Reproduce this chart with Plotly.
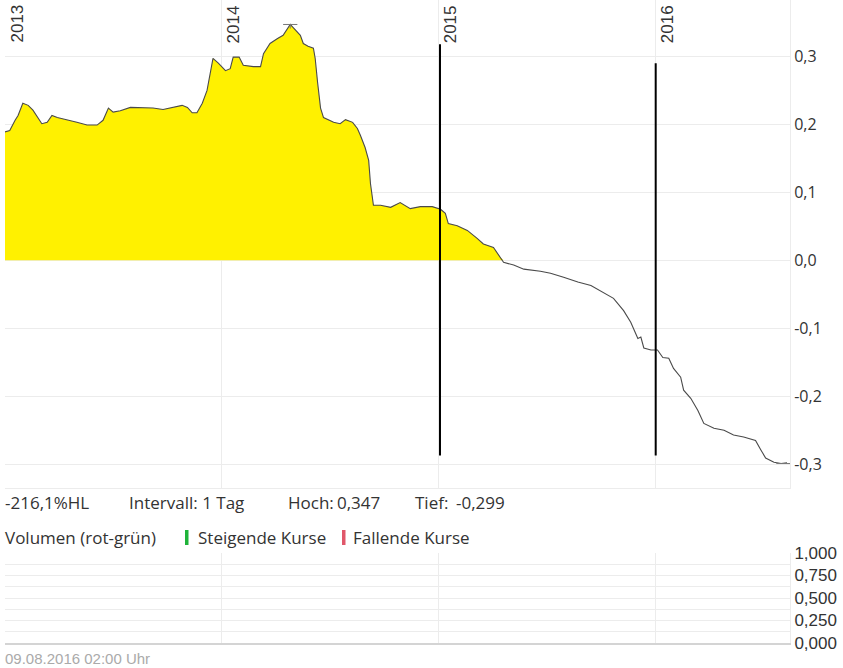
import plotly.graph_objects as go
from datetime import date, timedelta

# ---------------- data ----------------
DATES = [
    "2013-01-01", "2013-01-09", "2013-01-18", "2013-01-23", "2013-01-31", "2013-02-09",
    "2013-02-17", "2013-03-04", "2013-03-13", "2013-03-21", "2013-03-30", "2013-04-15",
    "2013-05-02", "2013-05-19", "2013-06-05", "2013-06-15", "2013-06-24", "2013-07-02",
    "2013-07-14", "2013-07-31", "2013-08-21", "2013-09-07", "2013-09-24", "2013-10-11",
    "2013-10-26", "2013-11-04", "2013-11-12", "2013-11-20", "2013-11-29", "2013-12-07",
    "2013-12-17", "2013-12-26", "2014-01-07", "2014-01-15", "2014-01-20", "2014-01-30",
    "2014-02-06", "2014-02-23", "2014-03-07", "2014-03-12", "2014-03-23", "2014-04-04",
    "2014-04-14", "2014-04-26", "2014-05-05", "2014-05-13", "2014-05-18", "2014-05-26",
    "2014-06-04", "2014-06-07", "2014-06-11", "2014-06-16", "2014-06-21", "2014-07-08",
    "2014-07-19", "2014-07-28", "2014-08-09", "2014-08-17", "2014-08-22", "2014-08-30",
    "2014-09-05", "2014-09-08", "2014-09-13", "2014-09-25", "2014-10-12", "2014-10-28",
    "2014-11-14", "2014-12-01", "2014-12-21", "2015-01-04", "2015-01-12", "2015-01-17",
    "2015-02-01", "2015-02-18", "2015-03-07", "2015-03-17", "2015-04-03", "2015-04-15",
    "2015-04-20", "2015-05-07", "2015-05-24", "2015-06-21", "2015-07-08", "2015-07-30",
    "2015-08-23", "2015-09-14", "2015-10-05", "2015-10-22", "2015-11-08", "2015-11-20",
    "2015-12-02", "2015-12-07", "2015-12-12", "2015-12-24", "2016-01-04", "2016-01-13",
    "2016-01-23", "2016-01-31", "2016-02-12", "2016-02-17", "2016-02-29", "2016-03-12",
    "2016-03-22", "2016-04-08", "2016-04-25", "2016-05-11", "2016-05-28", "2016-06-17",
    "2016-06-26", "2016-07-04", "2016-07-18", "2016-07-30", "2016-08-09",
]
VALUES = [
    0.189, 0.191, 0.206, 0.213, 0.231, 0.228,
    0.221, 0.201, 0.203, 0.213, 0.210, 0.207,
    0.203, 0.199, 0.199, 0.206, 0.224, 0.218,
    0.220, 0.225, 0.225, 0.224, 0.222, 0.225,
    0.228, 0.225, 0.217, 0.217, 0.231, 0.250,
    0.297, 0.290, 0.279, 0.282, 0.299, 0.299,
    0.287, 0.285, 0.285, 0.304, 0.319, 0.326,
    0.331, 0.347, 0.338, 0.331, 0.319, 0.315,
    0.312, 0.297, 0.262, 0.224, 0.210, 0.203,
    0.201, 0.207, 0.203, 0.194, 0.184, 0.166,
    0.147, 0.113, 0.081, 0.081, 0.078, 0.085,
    0.076, 0.079, 0.079, 0.075, 0.069, 0.054,
    0.051, 0.044, 0.032, 0.024, 0.019, 0.004,
    -0.003, -0.007, -0.013, -0.016, -0.019, -0.025,
    -0.032, -0.037, -0.047, -0.056, -0.074, -0.091,
    -0.115, -0.113, -0.129, -0.132, -0.132, -0.143,
    -0.144, -0.159, -0.172, -0.191, -0.203, -0.221,
    -0.240, -0.247, -0.250, -0.257, -0.260, -0.265,
    -0.279, -0.291, -0.297, -0.299, -0.298,
]
YEAR_TICKS = ["2013-01-01", "2014-01-01", "2015-01-01", "2016-01-01"]
YEAR_LABELS = ["2013", "2014", "2015", "2016"]
PRICE_TICKS = [-0.3, -0.2, -0.1, 0.0, 0.1, 0.2, 0.3]
VOL_TICKS = [0.0, 0.125, 0.25, 0.375, 0.5, 0.625, 0.75, 0.875, 1.0]
VOLUME = []  # no volume data shown

EVENT_DATES = ["2015-01-03", "2016-01-01"]
EVENT_TOP = [0.318, 0.290]
EVENT_BOTTOM = [-0.287, -0.287]

HIGH, LOW = 0.347, -0.299
HIGH_DATE, LOW_DATE = "2014-04-26", "2016-07-30"
PERF_TEXT = "-216,1%HL"
INTERVAL_TEXT = "Intervall: 1 Tag"
STAMP_TEXT = "09.08.2016 02:00 Uhr"

X_RANGE = ["2013-01-01", "2016-08-14"]

# ---------------- figure ----------------
W, H = 843, 668
def px(x):
    return x / W
def py(y):
    return 1 - y / H

def fmt(v, d):
    return f"{v:.{d}f}".replace(".", ",")

FONT = "Open Sans"
TXT = "#333333"

fig = go.Figure()
fig.add_trace(go.Scatter(
    x=DATES, y=[max(v, 0) for v in VALUES], mode="lines",
    line=dict(width=0), fill="tozeroy", fillcolor="#FFF100",
    hoverinfo="skip", showlegend=False, xaxis="x", yaxis="y"))
fig.add_trace(go.Scatter(
    x=DATES, y=VALUES, mode="lines",
    line=dict(color="#4a4a4a", width=1.1),
    showlegend=False, xaxis="x", yaxis="y"))
fig.add_trace(go.Bar(x=[d for d, _ in VOLUME], y=[v for _, v in VOLUME],
                     xaxis="x2", yaxis="y2", showlegend=False))

grid = "#ececec"
fig.update_layout(
    width=W, height=H, margin=dict(l=0, r=0, t=0, b=0, autoexpand=False),
    paper_bgcolor="white", plot_bgcolor="white",
    separators=",.",
    font=dict(family=FONT, color=TXT),
    xaxis=dict(domain=[px(5), px(790)], range=X_RANGE, type="date",
               tickmode="array", tickvals=YEAR_TICKS, showticklabels=False,
               showgrid=True, gridcolor=grid, zeroline=False,
               showline=True, linecolor=grid, anchor="y"),
    yaxis=dict(domain=[py(488), 1], range=[-0.335, 0.383], side="right",
               tickmode="array", tickvals=PRICE_TICKS,
               ticktext=[fmt(v, 1) for v in PRICE_TICKS],
               showgrid=True, gridcolor=grid, zeroline=False,
               showline=True, linecolor=grid, ticks="", automargin=False,
               tickfont=dict(size=16, color=TXT, family=FONT), anchor="x"),
    xaxis2=dict(domain=[px(5), px(790)], range=X_RANGE, type="date",
                tickmode="array", tickvals=YEAR_TICKS, showticklabels=False,
                showgrid=True, gridcolor=grid, zeroline=False,
                showline=True, linecolor="#d4d4d4", linewidth=2, anchor="y2"),
    yaxis2=dict(domain=[py(643), py(553)], range=[0, 1], side="right",
                tickmode="array", tickvals=VOL_TICKS,
                ticktext=[fmt(v, 3) if abs((v * 4) - round(v * 4)) < 1e-9 else "" for v in VOL_TICKS],
                showgrid=True, gridcolor=grid, zeroline=False,
                showline=True, linecolor=grid, ticks="", automargin=False,
                tickfont=dict(size=17, color=TXT, family="Liberation Sans"), anchor="x2"),
)

# year labels
for d, lab in zip(YEAR_TICKS, YEAR_LABELS):
    fig.add_annotation(x=d, xref="x", y=1, yref="paper", text=lab, textangle=-90,
                       xanchor="left", yanchor="top", showarrow=False, xshift=0, yshift=-3,
                       font=dict(size=17, color=TXT, family="Liberation Sans"))

# event lines
for d, t, b in zip(EVENT_DATES, EVENT_TOP, EVENT_BOTTOM):
    fig.add_shape(type="line", xref="x", yref="y", x0=d, x1=d, y0=b, y1=t,
                  line=dict(color="black", width=2))

# high / low markers
def shift(ds, days):
    return (date.fromisoformat(ds) + timedelta(days=days)).isoformat()
fig.add_shape(type="line", xref="x", yref="y", x0=shift(HIGH_DATE, -12), x1=shift(HIGH_DATE, 12),
              y0=HIGH, y1=HIGH, line=dict(color="#777", width=1))
fig.add_shape(type="line", xref="x", yref="y", x0=HIGH_DATE, x1=HIGH_DATE,
              y0=HIGH, y1=HIGH - 0.006, line=dict(color="#777", width=1))
fig.add_shape(type="line", xref="x", yref="y", x0=shift(LOW_DATE, -8), x1=shift(LOW_DATE, 16),
              y0=LOW, y1=LOW, line=dict(color="#777", width=1))

# info row
row1 = py(502)
for x, t in [(3, PERF_TEXT), (127, INTERVAL_TEXT), (286, "Hoch:"), (335, fmt(HIGH, 3)),
             (413, "Tief:"), (454, fmt(LOW, 3))]:
    fig.add_annotation(x=px(x), y=row1, xref="paper", yref="paper", text=t,
                       xanchor="left", yanchor="middle", showarrow=False,
                       font=dict(size=17, color=TXT, family=FONT))

row2 = py(537)
for x, t in [(3, "Volumen (rot-grün)"), (196, "Steigende Kurse"), (351, "Fallende Kurse")]:
    fig.add_annotation(x=px(x), y=row2, xref="paper", yref="paper", text=t,
                       xanchor="left", yanchor="middle", showarrow=False,
                       font=dict(size=17, color=TXT, family=FONT))
for x, c in [(185, "#1fb33a"), (342, "#e0576a")]:
    fig.add_shape(type="rect", xref="paper", yref="paper", x0=px(x), x1=px(x + 3.5),
                  y0=py(545), y1=py(530), fillcolor=c, line=dict(width=0))

fig.add_annotation(x=px(3), y=py(658), xref="paper", yref="paper", text=STAMP_TEXT,
                   xanchor="left", yanchor="middle", showarrow=False,
                   font=dict(size=15, color="#aaaaaa", family="Liberation Sans"))

fig.write_html("out.html", config={"displayModeBar": False},
               post_script="document.body.style.margin='0';")
